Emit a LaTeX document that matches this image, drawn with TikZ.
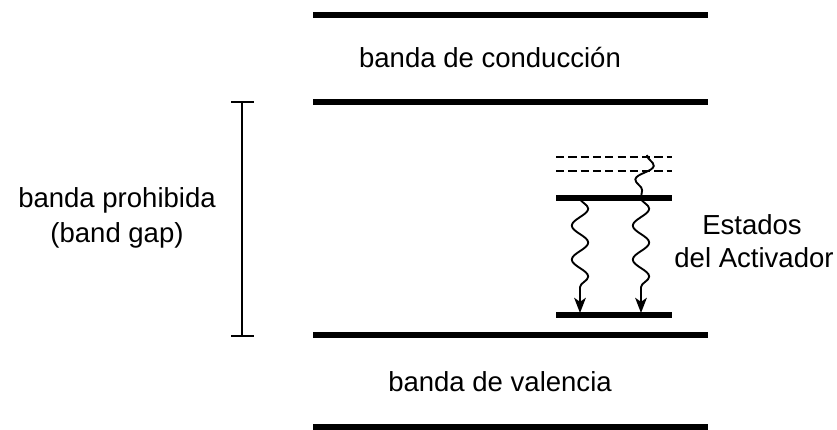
\documentclass[tikz,border=0pt]{standalone}
\usepackage{fontspec}
\setmainfont{Liberation Sans}
\usetikzlibrary{arrows.meta,decorations.pathmorphing}

\begin{document}
\begin{tikzpicture}[x=0.03cm,y=-0.03cm,>={Stealth[length=13pt,width=10pt,inset=3.5pt]},
  font=\fontsize{23.5}{28}\selectfont,
  band/.style={line width=5pt},
  level/.style={line width=4.5pt},
  virtual/.style={line width=2pt,dash pattern=on 7pt off 3.5pt},
  wavy/.style={line width=1.6pt,decorate,decoration={snake,segment length=29pt,amplitude=7pt,post length=13pt}},
  lbl/.style={inner sep=0pt,anchor=base}]
\useasboundingbox (0,0) rectangle (837,430);
% bandas
\draw[band] (313,15) -- (708,15);
\draw[band] (313,102) -- (708,102);
\draw[band] (313,335) -- (708,335);
\draw[band] (313,427) -- (708,427);
\node[lbl] (conduccion) at (490,68) {banda de conducción};
\node[lbl] (valencia) at (500,392) {banda de valencia};
% gap
\draw[line width=1.2pt] (242,102) -- (242,336);
\draw[line width=1.2pt] (231,102) -- (254,102);
\draw[line width=1.2pt] (231,336) -- (254,336);
\node[lbl] (prohibida) at (117,208) {banda prohibida};
\node[lbl] (bandgap) at (117,243) {(band gap)};
% estados del activador
\draw[virtual] (556,157) -- (672,157);
\draw[virtual] (556,171) -- (672,171);
\draw[level] (556,198) -- (672,198);
\draw[level] (556,315) -- (672,315);
\coordinate (exc) at (647,155);
\coordinate (upA) at (580,198);
\coordinate (upB) at (641,198);
\coordinate (dnA) at (580,313);
\coordinate (dnB) at (641,313);
\draw[wavy,decoration={segment length=27pt,post length=0pt}] (exc) -- (upB);
\draw[wavy,->] (upA) -- (dnA);
\draw[wavy,->] (upB) -- (dnB);
\node[lbl] (estados) at (752,235) {Estados};
\node[lbl] (activador) at (754,268) {del Activador};
\end{tikzpicture}
\end{document}
